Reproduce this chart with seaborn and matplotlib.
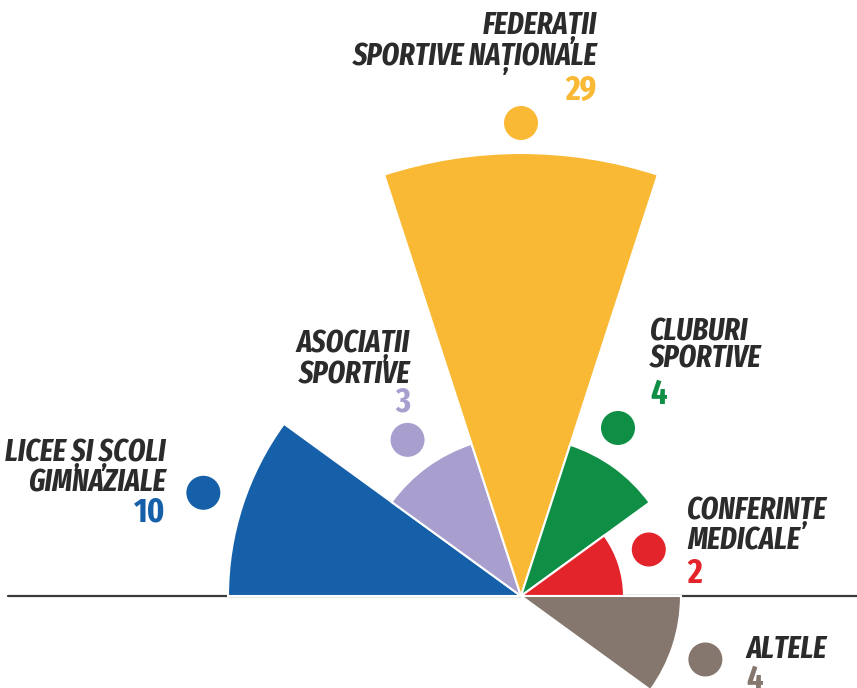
import matplotlib
matplotlib.use("Agg")
import matplotlib.pyplot as plt
from matplotlib.patches import Wedge, Circle
import numpy as np
import seaborn as sns

# ---- data ----
categories = ["LICEE ȘI ȘCOLI\nGIMNAZIALE", "ASOCIAȚII\nSPORTIVE", "FEDERAȚII\nSPORTIVE NAȚIONALE",
              "CLUBURI\nSPORTIVE", "CONFERINȚE\nMEDICALE", "ALTELE"]
values = [10, 3, 29, 4, 2, 4]
# radius of each wedge as drawn in the reference (pixels)
radii = [293, 160, 443, 159, 103, 160]
colors = ["#1560a8", "#a89fcf", "#f9b934", "#0f8f45", "#e3242b", "#85776d"]

sns.set_theme(style="white")
FAM = "Fira Sans Extra Condensed"
plt.rcParams["font.family"] = [FAM, "DejaVu Sans"]

fig = plt.figure(figsize=(8.57, 6.88), dpi=100)
ax = fig.add_axes([0, 0, 1, 1])
ax.set_xlim(0, 857)
ax.set_ylim(688, 0)
ax.set_axis_off()

cx, cy = 521, 596
step = 36
# axis line
ax.plot([8, 857], [cy, cy], color="#3a3a3a", lw=1.6, zorder=1)

dot_angle_shift = [0, 0, 0, 6, 2, -1]
dot_gap = [41, 33, 30, 35, 33, 35]
for i, (v, r, c) in enumerate(zip(values, radii, colors)):
    a1 = 180 - step * i
    a0 = a1 - step
    w = Wedge((cx, cy), r, -a1, -a0, facecolor=c, edgecolor="white", lw=1.5, zorder=2)
    ax.add_patch(w)
    mid = np.deg2rad((a0 + a1) / 2 + dot_angle_shift[i])
    rr = r + dot_gap[i]
    ax.add_patch(Circle((cx + rr * np.cos(mid), cy - rr * np.sin(mid)), 17, facecolor=c,
                        edgecolor="none", zorder=3))

# labels: (x, baseline of last line, ha)
label_pos = [(166, 492, "right"), (410, 383, "right"), (597, 65, "right"),
             (650, 368, "left"), (687, 550, "left"), (746, 658, "left")]
num_base = [522, 412, 100, 404, 583, 690]
for i, (cat, v, c) in enumerate(zip(categories, values, colors)):
    x, y, ha = label_pos[i]
    ax.text(x, y, cat, ha=ha, va="baseline", fontsize=22, fontweight="bold", fontstyle="italic",
            color="#2b2b2b", linespacing=0.9, zorder=4, fontfamily=[FAM, "DejaVu Sans"])
    ax.text(x, num_base[i], str(v), ha=ha, va="baseline", fontsize=25, fontweight="bold",
            color=c, zorder=4, fontfamily=[FAM, "DejaVu Sans"])

fig.savefig("out.png", dpi=100)
